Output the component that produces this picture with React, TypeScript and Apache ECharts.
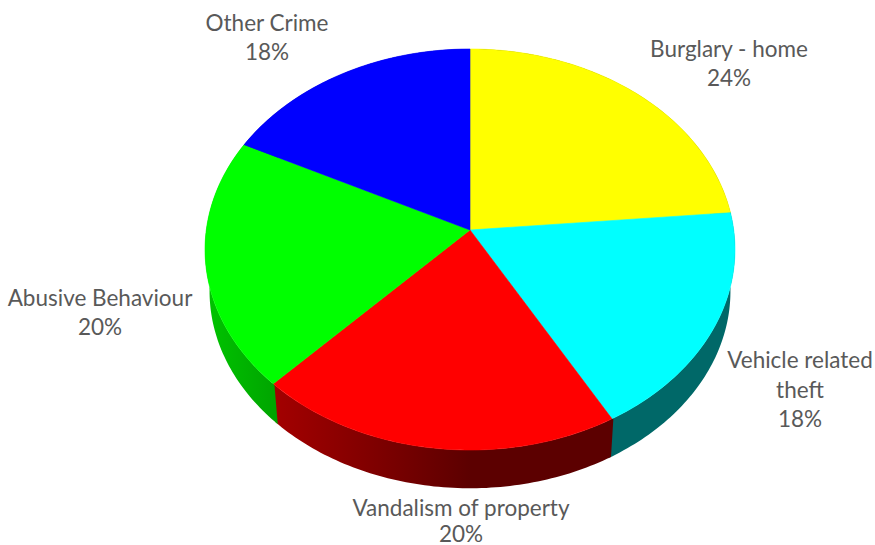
import React, { useEffect, useRef } from "react";
import * as echarts from "echarts";

const categories = ["Burglary - home", "Vehicle related\ntheft", "Vandalism of property", "Abusive Behaviour", "Other Crime"];
const shares = [23.6, 18.2, 20.4, 20.2, 17.6];
const topColors = ["#ffff00", "#00ffff", "#ff0000", "#00ff00", "#0000ff"];
const sideStops: [number, string][][] = [
  [[0, "#6a6a00"], [1, "#6a6a00"]],
  [[0, "#006868"], [1, "#006868"]],
  [[0, "#a40000"], [0.58, "#5c0000"], [1, "#5c0000"]],
  [[0, "#00c400"], [1, "#00a400"]],
  [[0, "#0000a0"], [1, "#0000a0"]],
];
const labelCenters = [
  [729, 63],
  [800, 389],
  [461, 520],
  [100, 312],
  [267, 37],
];
const labelLineHeights = [29.5, 29.5, 26, 29.5, 29.5];

const W = 875;
const H = 545;
const CX = 470;
const CY = 230;
const A = 263.7;
const B = 198.6;
const K = -0.0973;
const DEPTH = 42;
const BOTTOM_SCALE = 0.983;
const SEAM = 0.006;

const total = shares.reduce((s, v) => s + v, 0);
function sweep(i: number): [number, number] {
  const before = shares.slice(0, i).reduce((s, v) => s + v, 0);
  return [(before / total) * 2 * Math.PI, ((before + shares[i]) / total) * 2 * Math.PI];
}
function project(theta: number): [number, number] {
  const x = Math.sin(theta);
  const y = -Math.cos(theta);
  const d = 1 + K * y;
  return [CX + (A * x) / d, CY + (B * y) / d];
}
function projectBottom(theta: number): [number, number] {
  const [x, y] = project(theta);
  return [CX + (x - CX) * BOTTOM_SCALE, CY + DEPTH + (y - CY) * BOTTOM_SCALE];
}
function arc(a: number, b: number, f: (t: number) => [number, number]) {
  const n = Math.max(8, Math.ceil((b - a) * 60));
  const pts: [number, number][] = [];
  for (let i = 0; i <= n; i++) pts.push(f(a + ((b - a) * i) / n));
  return pts;
}

export default function App() {
  const ref = useRef<HTMLDivElement>(null);
  useEffect(() => {
    document.body.style.margin = "0";
    const chart = echarts.init(ref.current!, undefined, { renderer: "svg" });
    const data = categories.map((name, i) => ({ name, value: shares[i] }));
    chart.setOption({
      animation: false,
      backgroundColor: "#ffffff",
      series: [
        {
          type: "custom",
          coordinateSystem: "none",
          silent: true,
          data,
          renderItem: (params: any) => {
            const i = params.dataIndex;
            const [a0, b0] = sweep(i);
            const a = a0 - SEAM;
            const b = b0 + SEAM;
            const points = [...arc(a, b, project), ...arc(a, b, projectBottom).reverse()];
            const fill = new echarts.graphic.LinearGradient(
              0, 0, 1, 0,
              sideStops[i].map(([offset, color]) => ({ offset, color }))
            );
            return {
              type: "polygon",
              shape: { points },
              style: { fill, stroke: "none" },
            };
          },
        },
        {
          type: "custom",
          coordinateSystem: "none",
          silent: true,
          data,
          renderItem: (params: any) => {
            const i = params.dataIndex;
            const [a, b] = sweep(i);
            const points = [[CX, CY], ...arc(a, b, project)];
            return {
              type: "group",
              children: [
                {
                  type: "polygon",
                  shape: { points },
                  style: { fill: topColors[i], stroke: topColors[i], lineWidth: 0.6 },
                },
                {
                  type: "text",
                  x: labelCenters[i][0],
                  y: labelCenters[i][1],
                  style: {
                    text: `${categories[i]}\n${Math.round(shares[i])}%`,
                    fill: "#595959",
                    font: "22.5px Lato",
                    lineHeight: labelLineHeights[i],
                    align: "center",
                    verticalAlign: "middle",
                  },
                },
              ],
            };
          },
        },
      ],
    });
    return () => chart.dispose();
  }, []);
  return <div ref={ref} style={{ width: W, height: H }} />;
}
